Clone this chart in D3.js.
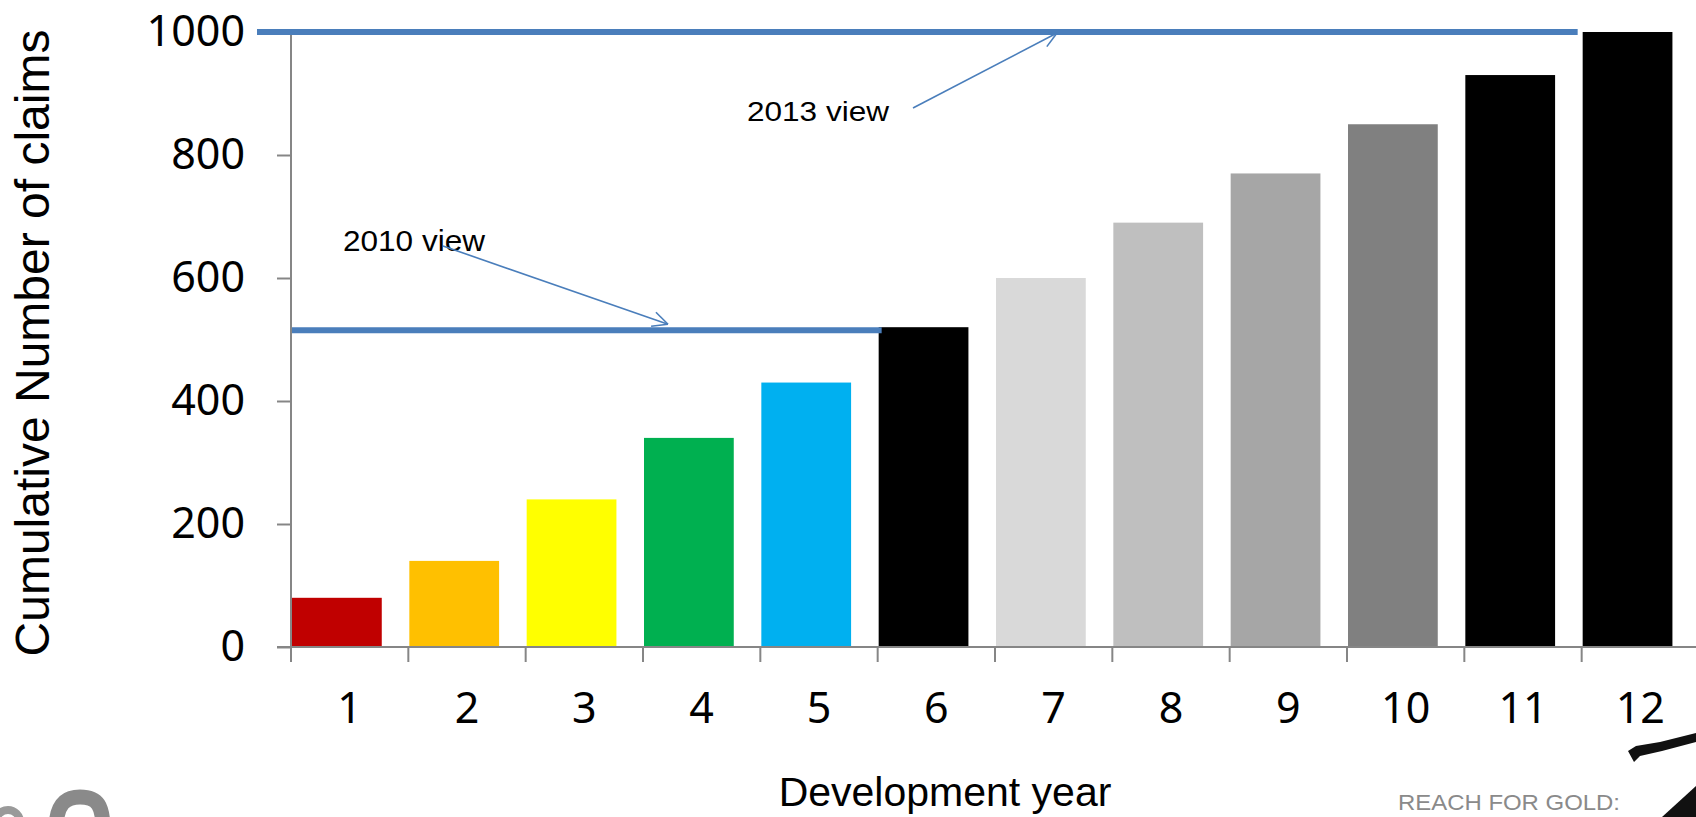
<!DOCTYPE html>
<html>
<head>
<meta charset="utf-8">
<script src="https://cdn.jsdelivr.net/npm/d3@7"></script>
<style>
  html, body { margin: 0; padding: 0; background: #fff; overflow: hidden; }
  svg { display: block; }
</style>
</head>
<body>
<svg id="chart" width="1696" height="817"></svg>
<script>
// ---- data ----
const categories = ["1","2","3","4","5","6","7","8","9","10","11","12"];
const values = [80, 140, 240, 340, 430, 520, 600, 690, 770, 850, 930, 1000];
const barColors = ["#C00000","#FFC000","#FFFF00","#00B050","#00B0F0","#000000",
                   "#D9D9D9","#BFBFBF","#A6A6A6","#808080","#000000","#000000"];
const yTicks = [0, 200, 400, 600, 800, 1000];
const viewLabels = ["2010 view", "2013 view"];
const viewValues = [515, 1000];
const viewEndCategory = ["6", "12"];
const xTitle = "Development year";
const yTitle = "Cumulative Number of claims";
const footerText = "REACH FOR GOLD:";

// ---- layout ----
const W = 1696, H = 817;
const svg = d3.select("#chart");
const x0 = 291, x1 = 1699, yTop = 32, yBottom = 647;

const x = d3.scaleBand().domain(categories).range([x0, x1]).padding(0);
const y = d3.scaleLinear().domain([0, 1000]).range([yBottom, yTop]);

const axisColor = "#868686";
const blue = "#4A7EBB";

// bars
svg.append("g").selectAll("rect").data(categories).join("rect")
  .attr("x", d => x(d) + 1)
  .attr("y", (d, i) => y(values[i]))
  .attr("width", x.bandwidth() * 0.765)
  .attr("height", (d, i) => y(0) - y(values[i]))
  .attr("fill", (d, i) => barColors[i]);

// y axis
const yAxis = svg.append("g").attr("transform", `translate(${x0},0)`)
  .call(d3.axisLeft(y).tickValues(yTicks).tickSize(14).tickPadding(32).tickFormat(d3.format("d")));
yAxis.select(".domain").attr("stroke", axisColor).attr("stroke-width", 2)
  .attr("d", `M0,${yTop}V${yBottom}`);
yAxis.selectAll(".tick line").attr("stroke", axisColor).attr("stroke-width", 2);
yAxis.selectAll(".tick text").attr("font-family", "'Noto Sans', sans-serif")
  .attr("font-size", 43).attr("fill", "#000");

// x axis
const xAxis = svg.append("g").attr("transform", `translate(0,${yBottom})`)
  .call(d3.axisBottom(x).tickSize(0).tickPadding(45));
xAxis.select(".domain").attr("stroke", axisColor).attr("stroke-width", 2)
  .attr("d", `M${x0 - 14},0H${W}`);
xAxis.selectAll(".tick text").attr("font-family", "'Noto Sans', sans-serif")
  .attr("font-size", 43).attr("fill", "#000");
// category boundary ticks
xAxis.append("g").selectAll("line").data(categories).join("line")
  .attr("x1", d => x(d)).attr("x2", d => x(d))
  .attr("y1", 0).attr("y2", 15)
  .attr("stroke", axisColor).attr("stroke-width", 2);

// axis titles
svg.append("text")
  .attr("x", 945).attr("y", 806)
  .attr("text-anchor", "middle")
  .attr("font-family", "'Liberation Sans', Arial, sans-serif")
  .attr("font-size", 41).attr("fill", "#000")
  .text(xTitle);

svg.append("text")
  .attr("transform", `translate(49,${(yTop + 654) / 2}) rotate(-90)`)
  .attr("text-anchor", "middle")
  .attr("font-family", "'Liberation Sans', Arial, sans-serif")
  .attr("font-size", 48).attr("fill", "#000")
  .text(yTitle);

// view lines
const lineStarts = [x0 + 1, x0 - 34];
const lineEnds = viewEndCategory.map((c, i) => i === 0 ? x(c) + 4 : x(c) - 4);
svg.append("g").selectAll("line").data(viewValues).join("line")
  .attr("x1", (d, i) => lineStarts[i])
  .attr("x2", (d, i) => lineEnds[i])
  .attr("y1", d => y(d)).attr("y2", d => y(d))
  .attr("stroke", blue).attr("stroke-width", 6);

// annotations
const labelPos = [[343, 251], [747, 121]];
const labelSizes = [29, 28];
svg.append("g").selectAll("text").data(viewLabels).join("text")
  .attr("x", (d, i) => labelPos[i][0]).attr("y", (d, i) => labelPos[i][1])
  .attr("font-family", "'Liberation Sans', Arial, sans-serif")
  .attr("font-size", (d, i) => labelSizes[i])
  .attr("textLength", 142).attr("lengthAdjust", "spacingAndGlyphs")
  .attr("fill", "#000")
  .text(d => d);

// arrows: from near label to the view line
const arrowFrom = [[443, 246], [913, 108]];
const arrowTo = [[668, y(viewValues[0]) - 6], [1057, y(viewValues[1]) + 1]];
const ag = svg.append("g").attr("stroke", blue).attr("stroke-width", 1.6).attr("fill", "none");
arrowFrom.forEach((p, i) => {
  const q = arrowTo[i];
  ag.append("line").attr("x1", p[0]).attr("y1", p[1]).attr("x2", q[0]).attr("y2", q[1]);
  const ang = Math.atan2(q[1] - p[1], q[0] - p[0]);
  const L = 17, spread = Math.PI / 7;
  [ang + Math.PI - spread, ang + Math.PI + spread].forEach(a => {
    ag.append("line").attr("x1", q[0]).attr("y1", q[1])
      .attr("x2", q[0] + L * Math.cos(a)).attr("y2", q[1] + L * Math.sin(a));
  });
});

// footer decorations (slide logos, partly cut off at the bottom)
svg.append("path")
  .attr("d", "M56,830 C56,803 66,797 80,797 C98,797 103,806 103,830")
  .attr("fill", "none").attr("stroke", "#8a8a8a").attr("stroke-width", 15);
svg.append("circle").attr("cx", 8).attr("cy", 822).attr("r", 12)
  .attr("fill", "none").attr("stroke", "#9a9a9a").attr("stroke-width", 8);
svg.append("text")
  .attr("x", 1398).attr("y", 810)
  .attr("font-family", "'Liberation Sans', Arial, sans-serif")
  .attr("font-size", 22).attr("fill", "#8a8a8a")
  .attr("textLength", 222).attr("lengthAdjust", "spacingAndGlyphs")
  .text(footerText);
svg.append("path")
  .attr("d", "M1628,751 L1636,746 L1660,742 L1696,733 L1696,742 L1662,751 L1640,756 L1634,762 Z")
  .attr("fill", "#111");
svg.append("path")
  .attr("d", "M1662,817 L1696,786 L1696,817 Z")
  .attr("fill", "#111");
</script>
</body>
</html>
